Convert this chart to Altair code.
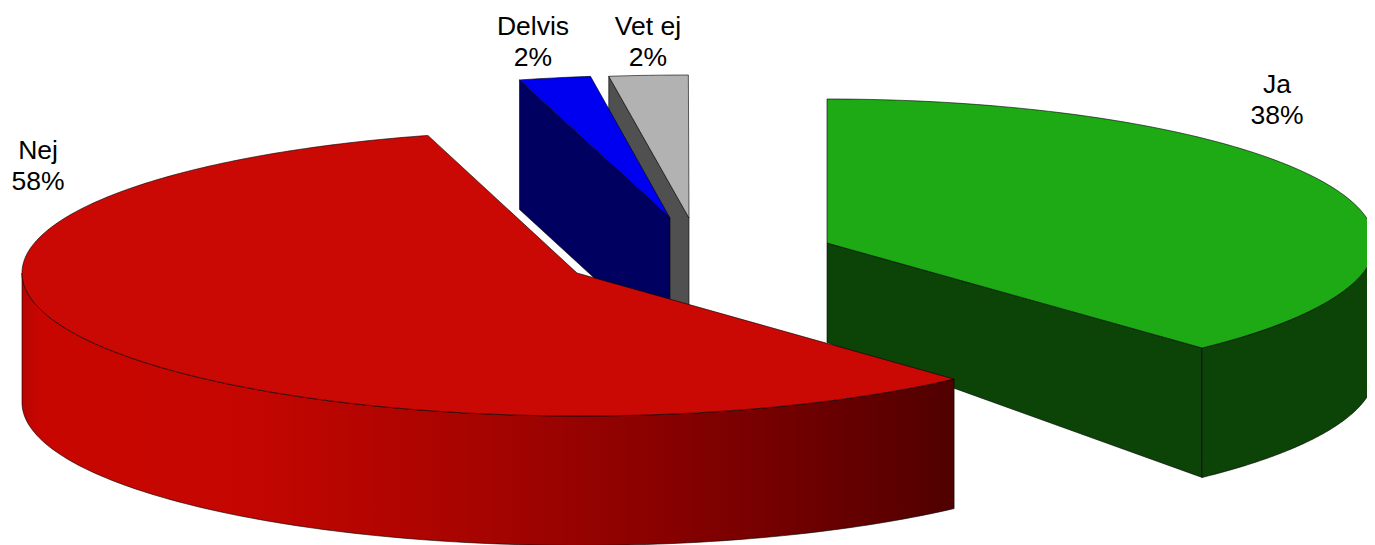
import math
import altair as alt
import pandas as pd

# --- chart values -----------------------------------------------------------
categories = ["Ja", "Nej", "Delvis", "Vet ej"]
shares = [38.0, 57.3, 2.0, 2.1]
share_labels = ["38%", "58%", "2%", "2%"]

# --- geometry of each exploded slice: apex, ellipse centre, radii, turn -----
GEOM = {
    "Ja":     dict(apex=(827, 243), c=(827, 243), a=548, b=144, turn=0.0),
    "Nej":    dict(apex=(577, 273), c=(580, 273), a=558, b=143, turn=1.1),
    "Delvis": dict(apex=(670, 218), c=(670, 218), a=577, b=143, turn=1.8),
    "Vet ej": dict(apex=(689, 218), c=(689, 218), a=605, b=143, turn=2.1),
}
DEPTH = 129.5
TOP = {"Ja": "#1EAA14", "Nej": "#CA0804", "Delvis": "#0000F0", "Vet ej": "#B2B2B2"}
SIDE = {"Ja": "#0C4408", "Nej": "#CA0804", "Delvis": "#000060", "Vet ej": "#505050"}
LABEL_POS = {"Ja": (1277, 85), "Nej": (38, 151), "Delvis": (533, 27), "Vet ej": (648, 27)}
LINE_GAP = 31

RED_WALL = alt.Gradient(
    gradient="linear", x1=0, y1=0, x2=1, y2=0,
    stops=[
        alt.GradientStop(offset=0.0, color="#B80500"),
        alt.GradientStop(offset=0.02, color="#C80600"),
        alt.GradientStop(offset=0.22, color="#C60600"),
        alt.GradientStop(offset=0.5, color="#A50400"),
        alt.GradientStop(offset=0.8, color="#760000"),
        alt.GradientStop(offset=1.0, color="#500000"),
    ],
)


def rim(name, t):
    g = GEOM[name]
    r = math.radians(t)
    return (g["c"][0] + g["a"] * math.sin(r), g["c"][1] - g["b"] * math.cos(r))


def arc(name, t0, t1, n=120):
    return [rim(name, t0 + (t1 - t0) * i / n) for i in range(n + 1)]


def frame(points):
    pts = list(points) + [points[0]]
    return pd.DataFrame({"i": range(len(pts)), "x": [p[0] for p in pts], "y": [p[1] for p in pts]})


X = alt.X("x:Q", scale=alt.Scale(domain=[8, 1367]), axis=None)
Y = alt.Y("y:Q", scale=alt.Scale(domain=[545, 8]), axis=None)


def shape(points, fill, stroke="#000000", sw=0.6):
    return (
        alt.Chart(frame(points))
        .mark_line(fill=fill, stroke=stroke, strokeWidth=sw, clip=True, strokeJoin="round")
        .encode(x=X, y=Y, order=alt.Order("i:Q"))
    )


# cumulative angles, clockwise from 12 o'clock
angles = {}
acc = 0.0
for name, s in zip(categories, shares):
    turn = GEOM[name]["turn"]
    angles[name] = (acc * 3.6 + turn, (acc + s) * 3.6 + turn)
    acc += s


def down(points):
    return [(x, y + DEPTH) for x, y in points]


layers = []

# Ja: radial wall, outer wall, top
t0, t1 = angles["Ja"]
apex = GEOM["Ja"]["apex"]
end = rim("Ja", t1)
layers.append(shape([apex, end, (end[0], end[1] + DEPTH), (apex[0], apex[1] + DEPTH - 30)], SIDE["Ja"]))
outer = arc("Ja", 88, t1)
layers.append(shape(outer + down(outer)[::-1], SIDE["Ja"]))
layers.append(shape([apex] + arc("Ja", t0, t1), TOP["Ja"]))

# Vet ej then Delvis: the left radial wall and the top
for name in ["Vet ej", "Delvis"]:
    t0, t1 = angles[name]
    apex = GEOM[name]["apex"]
    start = rim(name, t0)
    layers.append(shape([start, apex, (apex[0], apex[1] + DEPTH), (start[0], start[1] + DEPTH)], SIDE[name]))
    layers.append(shape([apex] + arc(name, t0, t1, 12), TOP[name]))

# Nej: outer wall with gradient, then top
t0, t1 = angles["Nej"]
apex = GEOM["Nej"]["apex"]
outer = arc("Nej", t0, 270)
layers.append(shape(outer + down(outer)[::-1], RED_WALL))
layers.append(shape([apex] + arc("Nej", t0, t1, 240), TOP["Nej"]))

# labels
rows = []
for name, pct in zip(categories, share_labels):
    x, y = LABEL_POS[name]
    rows.append({"x": x, "y": y, "text": name})
    rows.append({"x": x, "y": y + LINE_GAP, "text": pct})
labels = (
    alt.Chart(pd.DataFrame(rows))
    .mark_text(font="Liberation Sans", fontSize=26.5, color="#000000", align="center", baseline="middle")
    .encode(x=X, y=Y, text="text:N")
)
layers.append(labels)

chart = (
    alt.layer(*layers)
    .properties(width=1359, height=537, padding=0, background="white", autosize=alt.AutoSizeParams(type="none"))
    .configure_view(stroke=None)
)
chart.save("out.html", embed_options={"renderer": "svg", "actions": False})
